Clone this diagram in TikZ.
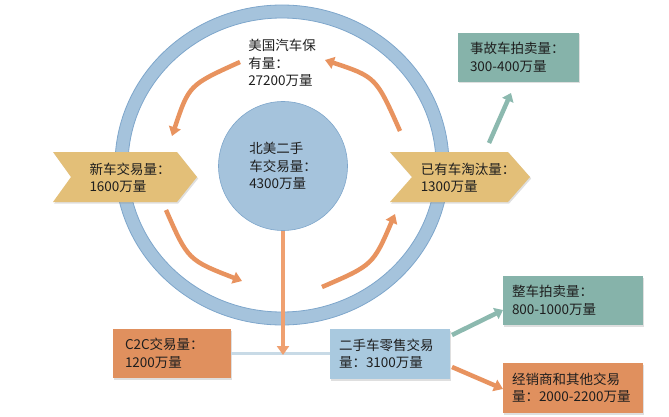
\documentclass[tikz,border=0pt]{standalone}
\usepackage{fontspec}
\setmainfont{Noto Sans CJK SC}
\usetikzlibrary{arrows.meta,shadows,calc}
\definecolor{ringblue}{HTML}{A5C3DC}
\definecolor{ringedge}{HTML}{7EA6CB}
\definecolor{chevfill}{HTML}{E3BF78}
\definecolor{tealbox}{HTML}{86B3AA}
\definecolor{tealarrow}{HTML}{8CB9AF}
\definecolor{orangebox}{HTML}{E0905E}
\definecolor{orangearrow}{HTML}{E8935F}
\definecolor{orangelight}{HTML}{EFA070}
\definecolor{lightbox}{HTML}{A9C9DF}
\definecolor{linkline}{HTML}{C8DAE6}
\definecolor{textc}{HTML}{1E1E1E}
\tikzset{
  softshadow/.style={drop shadow={opacity=0.25, shadow xshift=1.2pt, shadow yshift=-1.5pt}},
  infobox/.style={minimum height=49pt, align=left, text=textc, softshadow},
  label/.style={align=left, text=textc, inner sep=0pt},
  cyclearrow/.style={orangearrow, line width=4.5pt, -{Triangle[width=12pt,length=9pt]}},
  tealflow/.style={tealarrow, line width=4.5pt, -{Triangle[width=12pt,length=8pt]}},
  chevron/.style={fill=chevfill, softshadow}
}
\begin{document}
\begin{tikzpicture}[x=1pt,y=-1pt,font=\fontsize{13.5}{17.5}\selectfont]
\useasboundingbox (0,0) rectangle (669,417);
% outer ring
\path[fill=ringblue, draw=ringedge, line width=0.8pt, even odd rule]
  (282,165) ellipse [x radius=167, y radius=160]
  (282,165) ellipse [x radius=154, y radius=147];
% hub circle
\node (hub) [circle, fill=ringblue, draw=ringedge, line width=0.6pt, minimum size=129pt, inner sep=0pt, align=left, text=textc] at (283,166) {北美二手\\车交易量：\\4300万量};
% stock label
\node (stock) [label] at (282,63) {美国汽车保\\有量：\\27200万量};
% curved cycle arrows
\coordinate (a1s) at (240,62);  \coordinate (a1e) at (172,136);
\coordinate (a2s) at (400,131); \coordinate (a2e) at (325,60);
\coordinate (a3s) at (166,210); \coordinate (a3e) at (242,281);
\coordinate (a4s) at (322,287); \coordinate (a4e) at (395,214);
\draw[cyclearrow] (a1s) .. controls (189,85) .. (a1e);
\draw[cyclearrow] (a2s) .. controls (376,77) .. (a2e);
\draw[cyclearrow] (a3s) .. controls (188,260) .. (a3e);
\draw[cyclearrow] (a4s) .. controls (373,265) .. (a4e);
% chevrons
\path[chevron] (53,152) -- (177,152) -- (197,177) -- (177,202) -- (53,202) -- (71,177) -- cycle;
\path[chevron] (390,152) -- (508,152) -- (530,177) -- (508,202) -- (390,202) -- (412,177) -- cycle;
\node (newcar) [label] at (130,178) {新车交易量：\\1600万量};
\node (retire) [label] at (468,178) {已有车淘汰量：\\1300万量};
% boxes
\node (accident) [infobox, fill=tealbox, text width=97pt, inner xsep=12pt] at (518.5,57.5) {事故车拍卖量：\\300-400万量};
\node (auction) [infobox, fill=tealbox, text width=122pt, inner xsep=9pt] at (573,300.5) {整车拍卖量：\\800-1000万量};
\node (dealer) [infobox, fill=orangebox, text width=122pt, inner xsep=9pt, minimum height=50pt] at (573,388) {经销商和其他交易\\量：2000-2200万量};
\node (retail) [infobox, fill=lightbox, text width=102pt, inner xsep=9pt, minimum height=50pt] at (390,354) {二手车零售交易\\量：3100万量};
\node (c2c) [infobox, fill=orangebox, text width=94pt, inner xsep=12pt] at (172,353.5) {C2C交易量：\\1200万量};
% link line and down arrow
\draw[linkline, line width=3pt] (c2c.east) -- (c2c.east -| retail.west);
\coordinate (join) at (283,355);
\draw[orangelight, line width=4.5pt, -{Triangle[width=12pt,length=9pt]}] (hub.south) -- (join);
% teal arrows
\coordinate (t1s) at (489,143); \coordinate (t1e) at (511,93);
\coordinate (t2s) at (452,335); \coordinate (t2e) at (503,310);
\coordinate (t3s) at (452,367); \coordinate (t3e) at (503,389);
\draw[tealflow] (t1s) -- (t1e);
\draw[tealflow] (t2s) -- (t2e);
\draw[cyclearrow] (t3s) -- (t3e);
\end{tikzpicture}
\end{document}
